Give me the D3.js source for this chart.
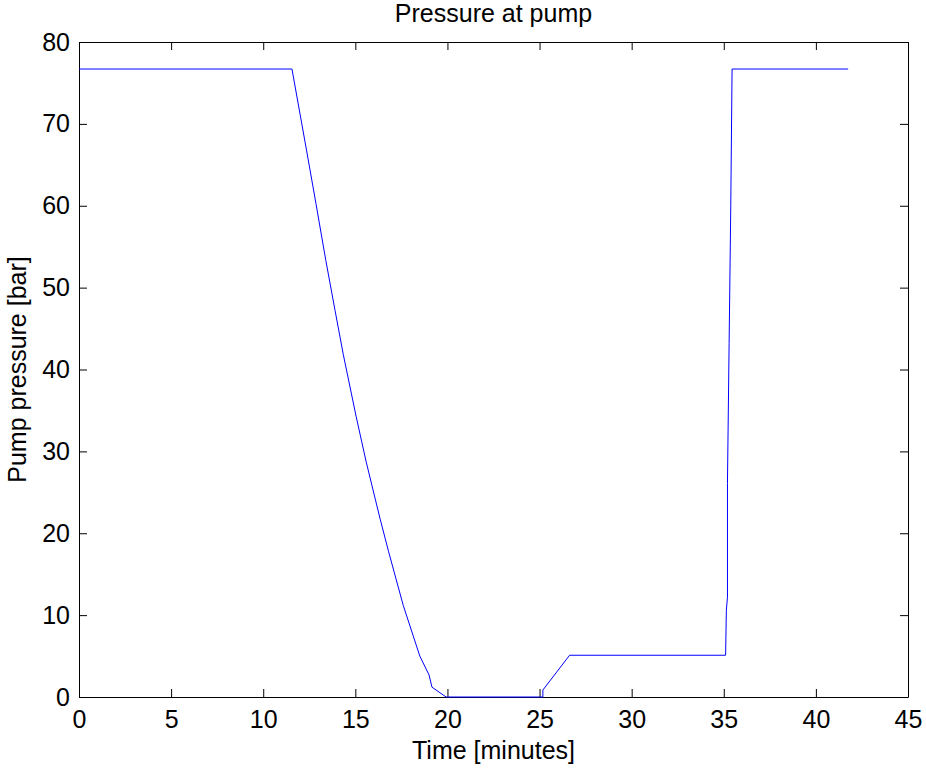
<!DOCTYPE html>
<html>
<head>
<meta charset="utf-8">
<script src="https://cdn.jsdelivr.net/npm/d3@7"></script>
<style>
  body { margin: 0; background: #fff; }
  text { font-family: "Liberation Sans", Arial, sans-serif; }
</style>
</head>
<body>
<div id="chart"></div>
<script>
// time in minutes, pressure in bar
var timeMin = [0, 11.56, 12.35, 12.86, 13.4, 13.9, 14.35, 15.04, 15.58, 16.34, 16.8, 17.6, 18.5, 19.0, 19.16, 19.93,
    25.18, 25.18, 26.63, 35.1, 35.14, 35.2, 35.2, 35.29, 35.38, 35.45, 41.75];
var pressureBar = [76.7, 76.7, 66.8, 60.3, 53.3, 47.2, 41.8, 34.3, 28.8, 21.8, 17.8, 11.2, 5.0, 2.7, 1.2, 0,
    0, 0.85, 5.1, 5.1, 10.6, 12.2, 26.1, 43.2, 60, 76.7, 76.7];
var xTicks = [0, 5, 10, 15, 20, 25, 30, 35, 40, 45];
var yTicks = [0, 10, 20, 30, 40, 50, 60, 70, 80];

var width = 926;
var height = 769;
var margin = { left: 79, right: 18, top: 42, bottom: 72 };

var svg = d3.select("#chart").append("svg")
    .attr("width", width)
    .attr("height", height);

var x = d3.scaleLinear().domain([0, 45]).range([margin.left, width - margin.right]);
var y = d3.scaleLinear().domain([0, 80]).range([height - margin.bottom, margin.top]);

var fontSize = 25;

// bottom axis with labels
svg.append("g")
    .attr("transform", "translate(0," + y(0) + ")")
    .call(d3.axisBottom(x).tickValues(xTicks).tickSize(-8).tickSizeOuter(0).tickPadding(13))
    .call(g => g.selectAll("text").style("font-size", fontSize + "px").attr("fill", "#000"));

// top axis, ticks only
svg.append("g")
    .attr("transform", "translate(0," + y(80) + ")")
    .call(d3.axisTop(x).tickValues(xTicks).tickSize(-8).tickSizeOuter(0).tickFormat(""));

// left axis with labels
svg.append("g")
    .attr("transform", "translate(" + x(0) + ",0)")
    .call(d3.axisLeft(y).tickValues(yTicks).tickSize(-8).tickSizeOuter(0).tickPadding(9))
    .call(g => g.selectAll("text").style("font-size", fontSize + "px").attr("fill", "#000"));

// right axis, ticks only
svg.append("g")
    .attr("transform", "translate(" + x(45) + ",0)")
    .call(d3.axisRight(y).tickValues(yTicks).tickSize(-8).tickSizeOuter(0).tickFormat(""));

svg.selectAll(".domain").attr("stroke", "#000");
svg.selectAll(".tick line").attr("stroke", "#000");

var pts = timeMin.map((t, i) => [t, pressureBar[i]]);

var line = d3.line()
    .x(d => x(d[0]))
    .y(d => y(d[1]));

svg.append("path")
    .datum(pts)
    .attr("d", line)
    .attr("fill", "none")
    .attr("stroke", "#0000ff")
    .attr("stroke-width", 1);

// title and axis labels
svg.append("text")
    .attr("x", (x(0) + x(45)) / 2)
    .attr("y", 22)
    .attr("text-anchor", "middle")
    .style("font-size", fontSize + "px")
    .text("Pressure at pump");

svg.append("text")
    .attr("x", (x(0) + x(45)) / 2)
    .attr("y", 759)
    .attr("text-anchor", "middle")
    .style("font-size", fontSize + "px")
    .text("Time [minutes]");

svg.append("text")
    .attr("transform", "translate(26," + (y(0) + y(80)) / 2 + ") rotate(-90)")
    .attr("text-anchor", "middle")
    .style("font-size", fontSize + "px")
    .text("Pump pressure [bar]");
</script>
</body>
</html>
